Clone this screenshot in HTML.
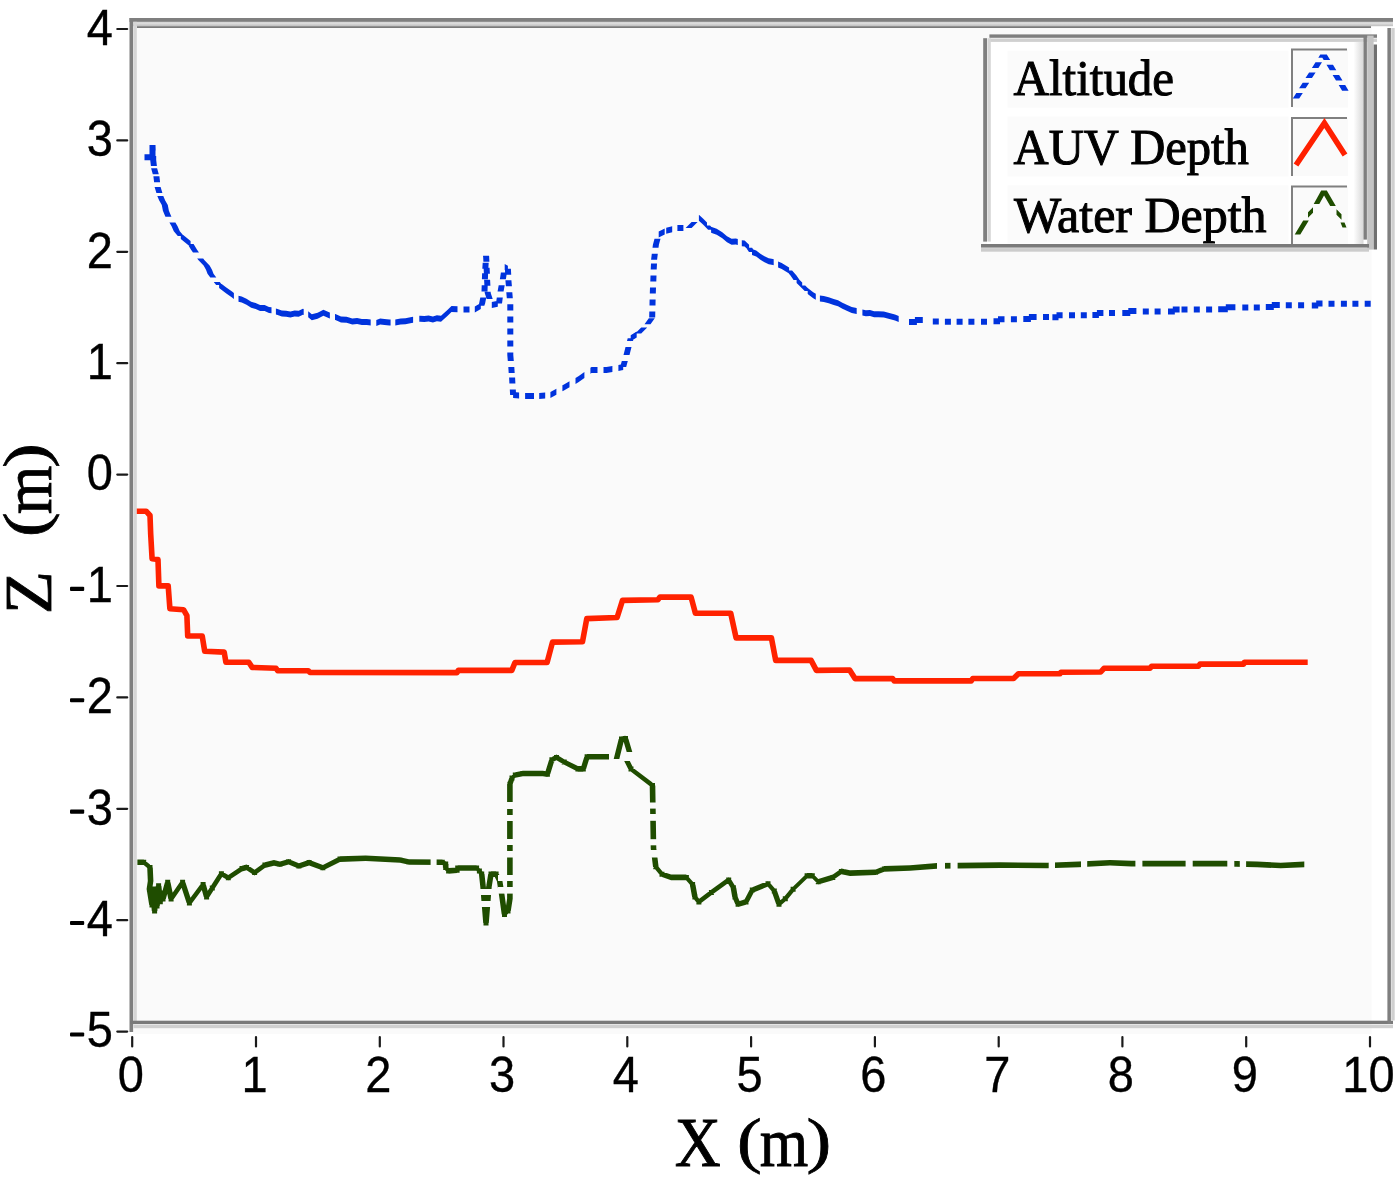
<!DOCTYPE html>
<html><head><meta charset="utf-8"><style>
html,body{margin:0;padding:0;background:#fff;width:1400px;height:1178px;overflow:hidden}
svg{display:block}
.sans{font-family:"Liberation Sans",sans-serif}
.serif{font-family:"Liberation Serif",serif}
</style></head><body>
<svg width="1400" height="1178" viewBox="0 0 1400 1178">
<defs>
<linearGradient id="tgr" x1="0" x2="0" y1="0" y2="1"><stop offset="0" stop-color="#d4d4d4"/><stop offset="0.35" stop-color="#dcdcdc"/><stop offset="1" stop-color="#bdbdbd"/></linearGradient>
<linearGradient id="lgsh" x1="0" x2="1" y1="0" y2="0"><stop offset="0" stop-color="#fff"/><stop offset="1" stop-color="#d8d8d8"/></linearGradient>
</defs>
<rect x="0" y="0" width="1400" height="1178" fill="#fff"/>
<!-- plot bg -->
<rect x="133" y="26" width="1238.6" height="1000" fill="#fafafa"/>
<rect x="133" y="1028" width="1238.6" height="6" fill="#fafafa"/>
<!-- outer frame -->
<rect x="129.5" y="18" width="1263.5" height="3.9" fill="#7f7f7f"/>
<rect x="133" y="21.9" width="1260" height="4.3" fill="url(#tgr)"/>
<rect x="137" y="26.2" width="1234" height="1.8" fill="#7a7a7a"/>
<rect x="129.5" y="18" width="3.6" height="1014" fill="#7f7f7f"/>
<rect x="133.4" y="21.8" width="3.4" height="1002" fill="#d6d6d6"/>
<rect x="130" y="1020.7" width="1263" height="3.4" fill="#7a7a7a"/>
<rect x="133.4" y="1024.8" width="1259.6" height="3.4" fill="#d0d0d0"/>
<rect x="1387.4" y="28" width="3.5" height="996" fill="#7f7f7f"/>
<rect x="1391.3" y="28" width="3.4" height="992.5" fill="#d0d0d0"/>
<!-- ticks -->
<g stroke="#1a1a1a" stroke-width="2.2" stroke-linecap="round"><line x1="117.3" y1="29.0" x2="127.2" y2="29.0"/><line x1="117.3" y1="140.4" x2="127.2" y2="140.4"/><line x1="117.3" y1="251.8" x2="127.2" y2="251.8"/><line x1="117.3" y1="363.2" x2="127.2" y2="363.2"/><line x1="117.3" y1="474.6" x2="127.2" y2="474.6"/><line x1="117.3" y1="586.0" x2="127.2" y2="586.0"/><line x1="117.3" y1="697.4" x2="127.2" y2="697.4"/><line x1="117.3" y1="808.8" x2="127.2" y2="808.8"/><line x1="117.3" y1="920.2" x2="127.2" y2="920.2"/><line x1="117.3" y1="1031.6" x2="127.2" y2="1031.6"/><line x1="132.2" y1="1037" x2="132.2" y2="1046.5"/><line x1="256.0" y1="1037" x2="256.0" y2="1046.5"/><line x1="379.8" y1="1037" x2="379.8" y2="1046.5"/><line x1="503.5" y1="1037" x2="503.5" y2="1046.5"/><line x1="627.3" y1="1037" x2="627.3" y2="1046.5"/><line x1="751.1" y1="1037" x2="751.1" y2="1046.5"/><line x1="874.9" y1="1037" x2="874.9" y2="1046.5"/><line x1="998.7" y1="1037" x2="998.7" y2="1046.5"/><line x1="1122.4" y1="1037" x2="1122.4" y2="1046.5"/><line x1="1246.2" y1="1037" x2="1246.2" y2="1046.5"/><line x1="1370.0" y1="1037" x2="1370.0" y2="1046.5"/></g>
<g class="sans" font-size="50" fill="#000" stroke="#000" stroke-width="0.35" text-anchor="end"><text transform="translate(113,44.8) scale(0.94,1)">4</text><text transform="translate(113,156.2) scale(0.94,1)">3</text><text transform="translate(113,267.6) scale(0.94,1)">2</text><text transform="translate(113,379.0) scale(0.94,1)">1</text><text transform="translate(113,490.4) scale(0.94,1)">0</text><text transform="translate(113,601.8) scale(0.94,1)">1</text><text transform="translate(113,713.2) scale(0.94,1)">2</text><text transform="translate(113,824.6) scale(0.94,1)">3</text><text transform="translate(113,936.0) scale(0.94,1)">4</text><text transform="translate(113,1047.4) scale(0.94,1)">5</text></g>
<g fill="#000"><rect x="70" y="586.8" width="14.2" height="4.1" rx="1"/><rect x="70" y="698.2" width="14.2" height="4.1" rx="1"/><rect x="70" y="809.6" width="14.2" height="4.1" rx="1"/><rect x="70" y="921.0" width="14.2" height="4.1" rx="1"/><rect x="70" y="1032.4" width="14.2" height="4.1" rx="1"/></g>
<g class="sans" font-size="50" fill="#000" stroke="#000" stroke-width="0.35" text-anchor="middle"><text transform="translate(130.7,1092.3) scale(0.94,1)">0</text><text transform="translate(254.5,1092.3) scale(0.94,1)">1</text><text transform="translate(378.3,1092.3) scale(0.94,1)">2</text><text transform="translate(502.0,1092.3) scale(0.94,1)">3</text><text transform="translate(625.8,1092.3) scale(0.94,1)">4</text><text transform="translate(749.6,1092.3) scale(0.94,1)">5</text><text transform="translate(873.4,1092.3) scale(0.94,1)">6</text><text transform="translate(997.2,1092.3) scale(0.94,1)">7</text><text transform="translate(1120.9,1092.3) scale(0.94,1)">8</text><text transform="translate(1244.7,1092.3) scale(0.94,1)">9</text><text transform="translate(1368.5,1092.3) scale(0.94,1)">10</text></g>
<!-- axis titles -->
<g class="serif" font-size="64" fill="#000" stroke="#000" stroke-width="0.8">
<text transform="translate(674.7,1166.3) scale(0.995,1.079)">X</text>
<text transform="translate(736.9,1160.6) scale(1.16,0.95)">(</text>
<text transform="translate(759.7,1166.1) scale(0.975,1.097)">m</text>
<text transform="translate(806.6,1160.6) scale(1.16,0.95)">)</text>
<text transform="translate(51,614.2) rotate(-90) scale(1.106,1.06)">Z</text>
<text transform="translate(46.1,537.1) rotate(-90) scale(1.16,0.95)">(</text>
<text transform="translate(51,514.2) rotate(-90) scale(0.975,1.097)">m</text>
<text transform="translate(46.1,468) rotate(-90) scale(1.16,0.95)">)</text>
</g>
<!-- curves -->
<mask id="gm" maskUnits="userSpaceOnUse" x="0" y="0" width="1400" height="1178"><rect x="0" y="0" width="1400" height="1178" fill="#fff"/><rect x="430.6" y="850" width="6.0" height="30.0" fill="#000"/><rect x="937" y="850" width="8.0" height="30.0" fill="#000"/><rect x="950.5" y="850" width="7.1" height="30.0" fill="#000"/><rect x="1048.7" y="850" width="6.3" height="30.0" fill="#000"/><rect x="1081" y="850" width="6.2" height="30.0" fill="#000"/><rect x="1135.4" y="850" width="7.0" height="30.0" fill="#000"/><rect x="1185.6" y="850" width="7.1" height="30.0" fill="#000"/><rect x="1227.3" y="850" width="7.0" height="30.0" fill="#000"/><rect x="1239.8" y="850" width="6.3" height="30.0" fill="#000"/><rect x="500" y="802" width="16.0" height="7.0" fill="#000"/><rect x="500" y="815" width="16.0" height="6.0" fill="#000"/><rect x="500" y="839" width="16.0" height="6.0" fill="#000"/><rect x="500" y="851" width="16.0" height="6.5" fill="#000"/><rect x="498" y="875" width="18.0" height="6.0" fill="#000"/><rect x="498" y="887" width="18.0" height="6.6" fill="#000"/><rect x="478" y="889" width="15.0" height="6.0" fill="#000"/><rect x="478" y="901" width="15.0" height="6.0" fill="#000"/><rect x="646" y="802.5" width="16.0" height="6.1" fill="#000"/><rect x="646" y="814" width="16.0" height="6.8" fill="#000"/><rect x="646" y="839.2" width="16.0" height="6.1" fill="#000"/><rect x="646" y="850" width="16.0" height="7.5" fill="#000"/></mask>
<path mask="url(#gm)" fill="#1f4d00" d="M137.4 859.5L143.7 859.5L143.7 865.1L137.4 865.1ZM143.7 859.5L150.0 864.6L150.0 870.2L143.7 865.1ZM147.2 867.4L152.8 867.4L153.4 881.1L147.8 881.1ZM147.8 881.1L153.4 881.1L152.2 889.1L146.6 889.1ZM146.6 889.1L152.2 889.1L154.8 905.0L149.2 905.0ZM149.7 889.0L155.3 889.0L154.8 905.0L149.2 905.0ZM149.7 889.0L155.3 889.0L157.4 911.0L151.8 911.0ZM152.7 889.0L158.3 889.0L157.4 911.0L151.8 911.0ZM152.7 889.0L158.3 889.0L159.8 906.0L154.2 906.0ZM155.8 885.7L161.4 885.7L159.8 906.0L154.2 906.0ZM155.8 885.7L161.4 885.7L163.1 901.7L157.5 901.7ZM159.2 893.0L164.8 893.0L163.1 901.7L157.5 901.7ZM159.2 893.0L164.8 893.0L165.8 899.0L160.2 899.0ZM164.9 882.3L170.5 882.3L165.8 899.0L160.2 899.0ZM164.9 882.3L170.5 882.3L173.9 898.9L168.3 898.9ZM179.8 882.3L185.4 882.3L173.9 898.9L168.3 898.9ZM179.8 882.3L185.4 882.3L192.2 902.9L186.6 902.9ZM200.3 884.6L205.9 884.6L192.2 902.9L186.6 902.9ZM200.3 884.6L205.9 884.6L209.4 897.1L203.8 897.1ZM209.5 888.0L215.1 888.0L209.4 897.1L203.8 897.1ZM218.6 873.7L224.2 873.7L215.1 888.0L209.5 888.0ZM221.4 870.9L228.3 874.9L228.3 880.5L221.4 876.5ZM228.3 874.9L242.0 865.8L242.0 871.4L228.3 880.5ZM242.0 865.8L246.6 864.6L246.6 870.2L242.0 871.4ZM246.6 864.6L254.6 869.8L254.6 875.4L246.6 870.2ZM254.6 869.8L264.9 862.3L264.9 867.9L254.6 875.4ZM264.9 862.3L274.0 860.1L274.0 865.7L264.9 867.9ZM274.0 860.1L280.0 861.5L280.0 867.1L274.0 865.7ZM280.0 861.5L288.6 858.9L288.6 864.5L280.0 867.1ZM288.6 858.9L298.9 863.2L298.9 868.8L288.6 864.5ZM298.9 863.2L309.1 859.8L309.1 865.4L298.9 868.8ZM309.1 859.8L322.9 864.9L322.9 870.5L309.1 865.4ZM322.9 864.9L340.0 856.3L340.0 861.9L322.9 870.5ZM340.0 856.3L365.7 855.5L365.7 861.1L340.0 861.9ZM365.7 855.5L400.0 857.2L400.0 862.8L365.7 861.1ZM400.0 857.2L409.0 859.2L409.0 864.8L400.0 862.8ZM409.0 859.2L442.3 859.5L442.3 865.1L409.0 864.8ZM442.3 859.5L445.7 861.2L445.7 866.8L442.3 865.1ZM442.9 864.0L448.5 864.0L448.5 867.4L442.9 867.4ZM442.9 867.4L448.5 867.4L451.4 870.9L445.8 870.9ZM448.6 868.1L457.1 867.5L457.1 873.1L448.6 873.7ZM454.9 868.0L460.5 868.0L459.9 870.3L454.3 870.3ZM457.7 865.2L476.6 865.2L476.6 870.8L457.7 870.8ZM473.8 868.0L479.4 868.0L482.2 871.0L476.6 871.0ZM476.6 871.0L482.2 871.0L484.5 874.1L478.9 874.1ZM478.9 874.1L484.5 874.1L485.9 887.1L480.3 887.1ZM480.3 887.1L485.9 887.1L488.8 923.0L483.2 923.0ZM486.1 887.1L491.7 887.1L488.8 923.0L483.2 923.0ZM488.2 874.1L493.8 874.1L491.7 887.1L486.1 887.1ZM491.0 871.3L496.1 871.3L496.1 876.9L491.0 876.9ZM493.3 874.1L498.9 874.1L502.5 881.3L496.9 881.3ZM496.9 881.3L502.5 881.3L504.3 893.0L498.7 893.0ZM498.7 893.0L504.3 893.0L507.3 914.5L501.7 914.5ZM504.5 911.7L508.0 908.2L508.0 913.8L504.5 917.3ZM507.1 898.8L512.7 898.8L510.8 911.0L505.2 911.0ZM507.1 784.2L512.7 784.2L512.7 898.8L507.1 898.8ZM509.2 778.0L514.8 778.0L512.7 784.2L507.1 784.2ZM512.0 775.2L515.3 772.2L515.3 777.8L512.0 780.8ZM515.3 772.2L522.9 770.7L522.9 776.3L515.3 777.8ZM522.9 770.7L542.8 770.7L542.8 776.3L522.9 776.3ZM542.8 770.7L547.4 771.4L547.4 777.0L542.8 776.3ZM549.1 759.7L554.7 759.7L550.2 774.2L544.6 774.2ZM551.9 756.9L556.5 754.6L556.5 760.2L551.9 762.5ZM556.5 754.6L564.2 759.2L564.2 764.8L556.5 760.2ZM564.2 759.2L577.9 766.1L577.9 771.7L564.2 764.8ZM577.9 766.1L583.3 766.1L583.3 771.7L577.9 771.7ZM584.3 756.7L589.9 756.7L586.1 768.9L580.5 768.9ZM587.1 753.9L609.0 753.9L609.0 759.5L587.1 759.5ZM141.2 859.8h5.0v5.0h-5.0zM147.5 864.9h5.0v5.0h-5.0zM148.1 878.6h5.0v5.0h-5.0zM146.9 886.6h5.0v5.0h-5.0zM149.5 902.5h5.0v5.0h-5.0zM150.0 886.5h5.0v5.0h-5.0zM152.1 908.5h5.0v5.0h-5.0zM153.0 886.5h5.0v5.0h-5.0zM154.5 903.5h5.0v5.0h-5.0zM156.1 883.2h5.0v5.0h-5.0zM157.8 899.2h5.0v5.0h-5.0zM159.5 890.5h5.0v5.0h-5.0zM160.5 896.5h5.0v5.0h-5.0zM165.2 879.8h5.0v5.0h-5.0zM168.6 896.4h5.0v5.0h-5.0zM180.1 879.8h5.0v5.0h-5.0zM186.9 900.4h5.0v5.0h-5.0zM200.6 882.1h5.0v5.0h-5.0zM204.1 894.6h5.0v5.0h-5.0zM209.8 885.5h5.0v5.0h-5.0zM218.9 871.2h5.0v5.0h-5.0zM225.8 875.2h5.0v5.0h-5.0zM239.5 866.1h5.0v5.0h-5.0zM244.1 864.9h5.0v5.0h-5.0zM252.1 870.1h5.0v5.0h-5.0zM262.4 862.6h5.0v5.0h-5.0zM271.5 860.4h5.0v5.0h-5.0zM277.5 861.8h5.0v5.0h-5.0zM286.1 859.2h5.0v5.0h-5.0zM296.4 863.5h5.0v5.0h-5.0zM306.6 860.1h5.0v5.0h-5.0zM320.4 865.2h5.0v5.0h-5.0zM337.5 856.6h5.0v5.0h-5.0zM363.2 855.8h5.0v5.0h-5.0zM397.5 857.5h5.0v5.0h-5.0zM406.5 859.5h5.0v5.0h-5.0zM439.8 859.8h5.0v5.0h-5.0zM443.2 861.5h5.0v5.0h-5.0zM443.2 864.9h5.0v5.0h-5.0zM446.1 868.4h5.0v5.0h-5.0zM454.6 867.8h5.0v5.0h-5.0zM455.2 865.5h5.0v5.0h-5.0zM474.1 865.5h5.0v5.0h-5.0zM476.9 868.5h5.0v5.0h-5.0zM479.2 871.6h5.0v5.0h-5.0zM480.6 884.6h5.0v5.0h-5.0zM483.5 920.5h5.0v5.0h-5.0zM486.4 884.6h5.0v5.0h-5.0zM488.5 871.6h5.0v5.0h-5.0zM493.6 871.6h5.0v5.0h-5.0zM497.2 878.8h5.0v5.0h-5.0zM499.0 890.5h5.0v5.0h-5.0zM502.0 912.0h5.0v5.0h-5.0zM505.5 908.5h5.0v5.0h-5.0zM507.4 896.3h5.0v5.0h-5.0zM507.4 781.7h5.0v5.0h-5.0zM509.5 775.5h5.0v5.0h-5.0zM512.8 772.5h5.0v5.0h-5.0zM520.4 771.0h5.0v5.0h-5.0zM540.3 771.0h5.0v5.0h-5.0zM544.9 771.7h5.0v5.0h-5.0zM549.4 757.2h5.0v5.0h-5.0zM554.0 754.9h5.0v5.0h-5.0zM561.7 759.5h5.0v5.0h-5.0zM575.4 766.4h5.0v5.0h-5.0zM580.8 766.4h5.0v5.0h-5.0zM584.6 754.2h5.0v5.0h-5.0zM618.7 739.0L624.3 739.0L619.3 759.0L613.7 759.0ZM621.5 736.2L625.5 735.7L625.5 741.3L621.5 741.8ZM622.7 738.5L628.3 738.5L632.3 752.0L626.7 752.0ZM619.0 736.5h5.0v5.0h-5.0zM623.0 736.0h5.0v5.0h-5.0zM624.2 761.0L629.8 761.0L633.8 769.0L628.2 769.0ZM631.0 766.2L652.5 782.6L652.5 788.2L631.0 771.8ZM649.7 785.4L655.3 785.4L656.3 848.3L650.7 848.3ZM650.7 848.3L656.3 848.3L658.6 866.7L653.0 866.7ZM653.0 866.7L658.6 866.7L664.8 874.3L659.2 874.3ZM662.0 871.5L671.1 874.6L671.1 880.2L662.0 877.1ZM671.1 874.6L686.4 874.6L686.4 880.2L671.1 880.2ZM683.6 877.4L689.2 877.4L695.4 884.6L689.8 884.6ZM689.8 884.6L695.4 884.6L697.7 897.1L692.1 897.1ZM692.1 897.1L697.7 897.1L701.7 901.9L696.1 901.9ZM698.9 899.1L711.4 889.6L711.4 895.2L698.9 904.7ZM711.4 889.6L728.7 877.1L728.7 882.7L711.4 895.2ZM725.9 879.9L731.5 879.9L736.2 887.7L730.6 887.7ZM730.6 887.7L736.2 887.7L737.8 897.1L732.2 897.1ZM732.2 897.1L737.8 897.1L740.9 904.2L735.3 904.2ZM738.1 901.4L746.0 899.1L746.0 904.7L738.1 907.0ZM749.5 890.1L755.1 890.1L748.8 901.9L743.2 901.9ZM752.3 887.3L768.0 881.0L768.0 886.6L752.3 892.9ZM765.2 883.8L770.8 883.8L777.1 890.9L771.5 890.9ZM771.5 890.9L777.1 890.9L781.8 904.2L776.2 904.2ZM779.0 901.4L785.3 895.9L785.3 901.5L779.0 907.0ZM790.3 889.3L795.9 889.3L788.1 898.7L782.5 898.7ZM793.1 886.5L807.1 872.9L807.1 878.5L793.1 892.1ZM807.1 872.9L812.3 872.9L812.3 878.5L807.1 878.5ZM812.3 872.9L818.3 878.9L818.3 884.5L812.3 878.5ZM818.3 878.9L832.8 874.6L832.8 880.2L818.3 884.5ZM832.8 874.6L841.4 868.6L841.4 874.2L832.8 880.2ZM841.4 868.6L850.0 870.3L850.0 875.9L841.4 874.2ZM850.0 870.3L875.7 869.5L875.7 875.1L850.0 875.9ZM875.7 869.5L884.3 866.1L884.3 871.7L875.7 875.1ZM884.3 866.1L910.0 865.2L910.0 870.8L884.3 871.7ZM910.0 865.2L937.1 863.1L937.1 868.7L910.0 870.8ZM937.1 863.1L1000.0 862.3L1000.0 867.9L937.1 868.7ZM1000.0 862.3L1047.1 862.7L1047.1 868.3L1000.0 867.9ZM1047.1 862.7L1078.6 861.6L1078.6 867.2L1047.1 868.3ZM1078.6 861.6L1110.0 860.0L1110.0 865.6L1078.6 867.2ZM1110.0 860.0L1131.4 860.8L1131.4 866.4L1110.0 865.6ZM1131.4 860.8L1178.6 860.8L1178.6 866.4L1131.4 866.4ZM1178.6 860.8L1225.7 860.8L1225.7 866.4L1178.6 866.4ZM1225.7 860.8L1257.1 861.6L1257.1 867.2L1225.7 866.4ZM1257.1 861.6L1280.7 862.7L1280.7 868.3L1257.1 867.2ZM1280.7 862.7L1304.3 861.6L1304.3 867.2L1280.7 868.3ZM628.5 766.5h5.0v5.0h-5.0zM650.0 782.9h5.0v5.0h-5.0zM651.0 845.8h5.0v5.0h-5.0zM653.3 864.2h5.0v5.0h-5.0zM659.5 871.8h5.0v5.0h-5.0zM668.6 874.9h5.0v5.0h-5.0zM683.9 874.9h5.0v5.0h-5.0zM690.1 882.1h5.0v5.0h-5.0zM692.4 894.6h5.0v5.0h-5.0zM696.4 899.4h5.0v5.0h-5.0zM708.9 889.9h5.0v5.0h-5.0zM726.2 877.4h5.0v5.0h-5.0zM730.9 885.2h5.0v5.0h-5.0zM732.5 894.6h5.0v5.0h-5.0zM735.6 901.7h5.0v5.0h-5.0zM743.5 899.4h5.0v5.0h-5.0zM749.8 887.6h5.0v5.0h-5.0zM765.5 881.3h5.0v5.0h-5.0zM771.8 888.4h5.0v5.0h-5.0zM776.5 901.7h5.0v5.0h-5.0zM782.8 896.2h5.0v5.0h-5.0zM790.6 886.8h5.0v5.0h-5.0zM804.6 873.2h5.0v5.0h-5.0zM809.8 873.2h5.0v5.0h-5.0zM815.8 879.2h5.0v5.0h-5.0zM830.3 874.9h5.0v5.0h-5.0zM838.9 868.9h5.0v5.0h-5.0zM847.5 870.6h5.0v5.0h-5.0zM873.2 869.8h5.0v5.0h-5.0zM881.8 866.4h5.0v5.0h-5.0zM907.5 865.5h5.0v5.0h-5.0zM934.6 863.4h5.0v5.0h-5.0zM997.5 862.6h5.0v5.0h-5.0zM1044.6 863.0h5.0v5.0h-5.0zM1076.1 861.9h5.0v5.0h-5.0zM1107.5 860.3h5.0v5.0h-5.0zM1128.9 861.1h5.0v5.0h-5.0zM1176.1 861.1h5.0v5.0h-5.0zM1223.2 861.1h5.0v5.0h-5.0zM1254.6 861.9h5.0v5.0h-5.0zM1278.2 863.0h5.0v5.0h-5.0z"/>
<polyline points="136.8,511.2 146.1,511.2 150.0,515.5 150.7,534.1 152.1,558.8 158.0,559.6 158.9,585.9 168.2,585.9 169.9,608.8 183.5,609.7 186.9,615.6 187.7,636.0 202.2,636.0 204.7,651.3 224.2,652.1 225.9,662.3 248.8,662.3 252.2,667.4 276.0,668.3 277.7,670.8 308.3,670.8 310.0,672.5 457.1,672.6 458.2,670.4 511.8,670.4 515.0,662.5 547.1,662.5 552.5,642.1 582.5,641.7 586.8,618.6 617.1,617.5 622.5,600.4 657.9,599.7 660.0,597.1 691.1,597.1 695.4,613.2 730.7,613.2 736.1,637.9 771.4,637.9 775.7,660.4 811.1,660.4 816.4,670.4 849.6,670.0 855.0,678.6 892.6,678.5 894.2,680.9 971.2,680.9 972.8,678.5 1013.6,678.5 1018.4,673.8 1060.0,673.8 1060.8,672.2 1100.7,672.0 1104.0,668.3 1150.0,668.3 1151.6,666.3 1198.4,666.3 1200.0,664.1 1243.6,664.1 1244.4,662.2 1307.7,662.2" fill="none" stroke="#ff2200" stroke-width="5.6" stroke-linejoin="round"/>
<path d="M144.5 154.3L148.5 154.3L148.5 160.3L144.5 160.3ZM148.5 154.3L152.5 154.3L152.5 160.3L148.5 160.3ZM149.5 151.0L155.5 151.0L155.5 157.3L149.5 157.3ZM149.5 145.0L155.5 145.0L155.5 151.0L149.5 151.0ZM149.5 145.0L155.5 145.0L155.7 150.5L149.7 150.5ZM150.2 155.9L156.2 155.9L156.2 156.0L150.2 156.0ZM150.2 156.0L156.2 156.0L156.2 160.0L150.2 160.0ZM150.2 160.0L156.2 160.0L156.9 166.0L150.9 166.0ZM151.1 168.3L157.1 168.3L158.8 174.3L152.8 174.3ZM153.4 176.3L159.4 176.3L160.1 182.3L154.1 182.3ZM154.6 187.0L160.6 187.0L162.4 193.0L156.4 193.0ZM157.3 196.0L163.3 196.0L165.2 200.4L159.2 200.4ZM159.2 200.4L165.2 200.4L167.8 204.9L161.8 204.9ZM161.8 204.9L167.8 204.9L168.9 210.7L162.9 210.7ZM162.9 210.7L168.9 210.7L171.3 216.5L165.3 216.5ZM165.3 216.5L171.3 216.5L171.5 216.7L165.5 216.7ZM169.4 222.4L175.4 222.4L177.6 226.3L171.6 226.3ZM171.6 226.3L177.6 226.3L179.8 231.2L173.8 231.2ZM173.8 231.2L179.8 231.2L183.8 236.0L177.8 236.0ZM180.8 233.0L185.7 237.1L185.7 243.1L180.8 239.0ZM185.7 237.1L190.6 241.0L190.6 247.0L185.7 243.1ZM187.6 244.0L193.6 244.0L196.9 249.4L190.9 249.4ZM190.9 249.4L196.9 249.4L199.0 252.4L193.0 252.4ZM197.2 258.6L203.2 258.6L204.3 260.1L198.3 260.1ZM198.3 260.1L204.3 260.1L209.6 265.5L203.6 265.5ZM203.6 265.5L209.6 265.5L212.0 269.7L206.0 269.7ZM206.0 269.7L212.0 269.7L213.5 273.8L207.5 273.8ZM207.5 273.8L213.5 273.8L216.3 277.4L210.3 277.4ZM213.8 282.0L219.8 282.0L222.1 285.0L216.1 285.0ZM219.1 282.0L226.3 287.4L226.3 293.4L219.1 288.0ZM226.3 287.4L231.7 291.3L231.7 297.3L226.3 293.4ZM231.7 291.3L233.9 293.0L233.9 299.0L231.7 297.3ZM238.5 295.8L241.7 296.6L241.7 302.6L238.5 301.8ZM241.7 296.6L246.5 298.8L246.5 304.8L241.7 302.6ZM246.5 298.8L251.2 301.7L251.2 307.7L246.5 304.8ZM251.2 301.7L255.6 302.9L255.6 308.9L251.2 307.7ZM255.6 302.9L260.1 305.0L260.1 311.0L255.6 308.9ZM260.1 305.0L264.6 304.9L264.6 310.9L260.1 311.0ZM264.6 304.9L269.0 307.0L269.0 313.0L264.6 310.9ZM269.0 307.0L271.5 307.2L271.5 313.2L269.0 313.0ZM275.9 308.4L277.6 309.1L277.6 315.1L275.9 314.4ZM277.6 309.1L281.8 310.6L281.8 316.6L277.6 315.1ZM281.8 310.6L286.1 310.8L286.1 316.8L281.8 316.6ZM286.1 310.8L290.4 311.5L290.4 317.5L286.1 316.8ZM290.4 311.5L294.6 310.4L294.6 316.4L290.4 317.5ZM294.6 310.4L298.7 310.7L298.7 316.7L294.6 316.4ZM298.7 310.7L302.9 308.8L302.9 314.8L298.7 316.7ZM302.9 308.8L303.7 309.1L303.7 315.1L302.9 314.8ZM308.2 311.3L311.8 314.2L311.8 320.2L308.2 317.3ZM311.8 314.2L317.6 312.7L317.6 318.7L311.8 320.2ZM317.6 312.7L323.4 309.7L323.4 315.7L317.6 318.7ZM323.4 309.7L329.7 312.5L329.7 318.5L323.4 315.7ZM329.7 312.5L329.9 312.5L329.9 318.5L329.7 318.5ZM335.0 314.0L335.4 314.1L335.4 320.1L335.0 320.0ZM335.4 314.1L341.0 316.5L341.0 322.5L335.4 320.1ZM341.0 316.5L346.6 316.8L346.6 322.8L341.0 322.5ZM346.6 316.8L352.3 318.6L352.3 324.6L346.6 322.8ZM352.3 318.6L357.1 318.0L357.1 324.0L352.3 324.6ZM357.1 318.0L361.9 318.9L361.9 324.9L357.1 324.0ZM361.9 318.9L366.8 318.9L366.8 324.9L361.9 324.9ZM366.8 318.9L370.7 319.6L370.7 325.6L366.8 324.9ZM376.3 319.9L380.2 318.5L380.2 324.5L376.3 325.9ZM380.2 318.5L384.5 318.9L384.5 324.9L380.2 324.5ZM384.5 318.9L389.4 319.5L389.4 325.5L384.5 324.9ZM389.4 319.5L390.6 319.5L390.6 325.5L389.4 325.5ZM395.3 319.5L400.6 318.6L400.6 324.6L395.3 325.5ZM400.6 318.6L405.5 318.2L405.5 324.2L400.6 324.6ZM405.5 318.2L410.3 317.3L410.3 323.3L405.5 324.2ZM410.3 317.3L413.1 316.7L413.1 322.7L410.3 323.3ZM419.3 315.8L420.0 315.7L420.0 321.7L419.3 321.8ZM420.0 315.7L424.3 316.1L424.3 322.1L420.0 321.7ZM424.3 316.1L428.6 315.4L428.6 321.4L424.3 322.1ZM428.6 315.4L432.9 316.5L432.9 322.5L428.6 321.4ZM432.9 316.5L436.9 315.2L436.9 321.2L432.9 322.5ZM436.9 315.2L441.0 315.7L441.0 321.7L436.9 321.2ZM441.0 315.7L447.4 310.1L447.4 316.1L441.0 321.7ZM447.4 310.1L451.5 306.0L451.5 312.0L447.4 316.1ZM451.5 306.0L457.5 306.2L457.5 312.2L451.5 312.0ZM463.5 306.4L469.5 306.4L469.5 312.4L463.5 312.4ZM474.8 306.4L480.8 303.1L480.8 309.1L474.8 312.4ZM479.1 303.4L485.1 303.4L484.3 305.8L478.3 305.8ZM480.3 297.4L486.3 297.4L485.1 303.4L479.1 303.4ZM481.5 291.3L487.5 291.3L487.5 291.4L481.5 291.4ZM481.7 285.3L487.7 285.3L487.5 291.3L481.5 291.3ZM482.1 273.3L488.1 273.3L487.9 279.3L481.9 279.3ZM482.7 262.7L488.7 262.7L488.3 268.7L482.3 268.7ZM483.1 255.8L489.1 255.8L489.0 256.7L483.0 256.7ZM483.1 255.8L489.1 255.8L489.4 261.8L483.4 261.8ZM483.6 267.8L489.6 267.8L489.9 273.8L483.9 273.8ZM484.1 279.8L490.1 279.8L490.4 285.8L484.4 285.8ZM484.7 291.8L490.7 291.8L490.7 292.9L484.7 292.9ZM484.7 292.9L490.7 292.9L492.7 298.9L486.7 298.9ZM488.8 304.9L494.8 304.9L494.8 305.0L488.8 305.0ZM491.8 302.0L497.8 300.7L497.8 306.7L491.8 308.0ZM496.8 297.4L502.8 297.4L502.0 303.4L496.0 303.4ZM497.6 291.3L503.6 291.3L503.6 291.4L497.6 291.4ZM498.7 285.3L504.7 285.3L503.6 291.3L497.6 291.3ZM500.0 278.4L506.0 278.4L505.8 279.3L499.8 279.3ZM500.9 272.4L506.9 272.4L506.0 278.4L500.0 278.4ZM504.7 264.1L507.9 265.7L507.9 271.7L504.7 270.1ZM504.9 268.7L510.9 268.7L511.2 274.7L505.2 274.7ZM505.4 280.3L511.4 280.3L511.9 286.3L505.9 286.3ZM506.3 292.3L512.3 292.3L512.8 298.3L506.8 298.3ZM507.3 304.3L513.3 304.3L513.3 304.6L507.3 304.6ZM507.3 304.6L513.3 304.6L513.3 310.6L507.3 310.6ZM507.3 316.6L513.3 316.6L513.3 322.6L507.3 322.6ZM507.3 328.6L513.3 328.6L513.3 334.6L507.3 334.6ZM507.3 340.6L513.3 340.6L513.3 346.6L507.3 346.6ZM507.3 352.6L513.3 352.6L513.3 355.0L507.3 355.0ZM507.3 355.0L513.3 355.0L513.8 361.0L507.8 361.0ZM508.3 367.0L514.3 367.0L514.7 373.0L508.7 373.0ZM509.1 377.4L515.1 377.4L515.4 383.4L509.4 383.4ZM509.8 389.4L515.8 389.4L516.1 395.1L510.1 395.1ZM513.1 392.1L519.1 392.5L519.1 398.5L513.1 398.1ZM525.1 392.9L528.0 393.1L528.0 399.1L525.1 398.9ZM528.0 393.1L534.0 393.1L534.0 399.1L528.0 399.1ZM539.2 393.1L545.2 392.6L545.2 398.6L539.2 399.1ZM550.4 392.1L556.4 388.7L556.4 394.7L550.4 398.1ZM562.4 385.3L563.5 384.7L563.5 390.7L562.4 391.3ZM563.5 384.7L569.5 381.3L569.5 387.3L563.5 390.7ZM575.5 377.9L578.4 376.3L578.4 382.3L575.5 383.9ZM578.4 376.3L584.4 372.0L584.4 378.0L578.4 382.3ZM590.4 367.7L591.5 366.9L591.5 372.9L590.4 373.7ZM591.5 366.9L597.5 366.9L597.5 372.9L591.5 372.9ZM603.5 366.9L606.4 366.9L606.4 372.9L603.5 372.9ZM606.4 366.9L612.4 365.9L612.4 371.9L606.4 372.9ZM618.4 364.9L623.2 364.1L623.2 370.1L618.4 370.9ZM621.8 361.1L627.8 361.1L626.2 367.1L620.2 367.1ZM624.0 353.1L630.0 353.1L629.5 355.1L623.5 355.1ZM625.5 347.1L631.5 347.1L630.0 353.1L624.0 353.1ZM627.7 338.2L633.7 338.2L633.0 341.1L627.0 341.1ZM630.7 335.2L636.7 331.4L636.7 337.4L630.7 341.2ZM641.2 327.5L647.2 327.5L641.2 333.5L635.2 333.5ZM648.8 318.2L654.8 318.2L650.5 324.2L644.5 324.2ZM649.3 311.6L655.3 311.6L655.2 317.6L649.2 317.6ZM649.6 299.6L655.6 299.6L655.5 305.6L649.5 305.6ZM649.8 293.4L655.8 293.4L655.8 293.6L649.8 293.6ZM650.0 287.4L656.0 287.4L655.8 293.4L649.8 293.4ZM650.5 275.4L656.5 275.4L656.3 281.4L650.3 281.4ZM651.0 263.4L657.0 263.4L656.7 269.4L650.7 269.4ZM651.8 253.8L657.8 253.8L657.1 259.8L651.1 259.8ZM652.9 244.8L658.9 244.8L658.5 247.8L652.5 247.8ZM654.5 238.8L660.5 238.8L658.9 244.8L652.9 244.8ZM658.7 231.5L664.7 228.5L664.7 234.5L658.7 237.5ZM666.2 227.8L672.2 226.3L672.2 232.3L666.2 233.8ZM677.4 225.0L683.4 225.0L683.4 231.0L677.4 231.0ZM691.6 222.0L697.6 222.0L691.6 228.0L685.6 228.0ZM698.9 214.7L703.0 218.6L703.0 224.6L698.9 220.7ZM703.0 218.6L707.0 222.4L707.0 228.4L703.0 224.6ZM704.0 225.4L710.0 225.4L714.1 229.7L708.1 229.7ZM711.1 226.7L716.7 228.8L716.7 234.8L711.1 232.7ZM716.7 228.8L722.3 232.3L722.3 238.3L716.7 234.8ZM722.3 232.3L727.0 236.3L727.0 242.3L722.3 238.3ZM727.0 236.3L731.6 238.8L731.6 244.8L727.0 242.3ZM731.6 238.8L735.9 238.4L735.9 244.4L731.6 244.8ZM735.9 238.4L737.8 239.1L737.8 245.1L735.9 244.4ZM741.8 240.2L744.6 240.6L744.6 246.6L741.8 246.2ZM744.6 240.6L749.1 244.8L749.1 250.8L744.6 246.6ZM746.1 247.8L752.1 247.8L755.0 252.0L749.0 252.0ZM752.0 249.0L756.2 250.5L756.2 256.5L752.0 255.0ZM756.2 250.5L760.4 253.8L760.4 259.8L756.2 256.5ZM760.4 253.8L764.5 256.2L764.5 262.2L760.4 259.8ZM764.5 256.2L768.7 258.3L768.7 264.3L764.5 262.2ZM768.7 258.3L773.0 258.9L773.0 264.9L768.7 264.3ZM773.0 258.9L773.7 259.2L773.7 265.2L773.0 264.9ZM778.1 261.4L781.7 262.9L781.7 268.9L778.1 267.4ZM781.7 262.9L789.1 267.6L789.1 273.6L781.7 268.9ZM786.1 270.6L792.1 270.6L796.3 275.2L790.3 275.2ZM790.3 275.2L796.3 275.2L799.6 279.9L793.6 279.9ZM796.6 276.9L802.2 282.4L802.2 288.4L796.6 282.9ZM799.2 285.4L805.2 285.4L810.7 291.0L804.7 291.0ZM807.7 288.0L813.2 292.2L813.2 298.2L807.7 294.0ZM813.2 292.2L815.8 293.7L815.8 299.7L813.2 298.2ZM819.9 295.5L823.8 295.9L823.8 301.9L819.9 301.5ZM823.8 295.9L828.7 297.3L828.7 303.3L823.8 301.9ZM828.7 297.3L833.7 299.1L833.7 305.1L828.7 303.3ZM833.7 299.1L838.0 300.2L838.0 306.2L833.7 305.1ZM838.0 300.2L842.4 302.8L842.4 308.8L838.0 306.2ZM842.4 302.8L846.7 304.7L846.7 310.7L842.4 308.8ZM846.7 304.7L851.7 307.1L851.7 313.1L846.7 310.7ZM851.7 307.1L856.6 307.9L856.6 313.9L851.7 313.1ZM856.6 307.9L856.7 308.0L856.7 314.0L856.6 313.9ZM862.4 309.5L865.8 310.3L865.8 316.3L862.4 315.5ZM865.8 310.3L870.0 310.0L870.0 316.0L865.8 316.3ZM870.0 310.0L874.1 311.2L874.1 317.2L870.0 316.0ZM874.1 311.2L878.3 311.2L878.3 317.2L874.1 317.2ZM878.3 311.2L883.8 311.4L883.8 317.4L878.3 317.2ZM883.8 311.4L889.4 313.1L889.4 319.1L883.8 317.4ZM889.4 313.1L895.0 314.5L895.0 320.5L889.4 319.1ZM895.0 314.5L898.7 316.0L898.7 322.0L895.0 320.5ZM932.8 318.6h6v6h-6zM944.9 318.7h6v6h-6zM956.6 318.7h6v6h-6zM968.4 318.7h6v6h-6zM981.0 318.7h6v6h-6zM1010.9 316.3h6v6h-6zM1043.0 314.0h6v6h-6zM1069.0 312.3h6v6h-6zM1080.8 312.3h6v6h-6zM1109.0 310.0h6v6h-6zM1142.8 308.4h6v6h-6zM1154.6 308.4h6v6h-6zM1181.5 306.4h6v6h-6zM1193.8 306.4h6v6h-6zM1206.1 306.4h6v6h-6zM1242.3 304.5h6v6h-6zM1253.8 304.5h6v6h-6zM1285.8 302.3h6v6h-6zM1298.1 302.3h6v6h-6zM1328.5 300.7h6v6h-6zM1340.9 300.7h6v6h-6zM1352.4 300.7h6v6h-6zM1364.7 300.7h6v6h-6zM909.0 319.0H916.9v6H909.0zM914.9 317.0H922.8v6H914.9zM993.5 318.3H1000.0v6H993.5zM998.0 316.3H1004.5v6H998.0zM1023.3 316.0H1030.9v6H1023.3zM1028.9 314.0H1036.6v6H1028.9zM1052.4 314.3H1058.5v6H1052.4zM1056.5 312.3H1062.6v6H1056.5zM1092.4 312.0H1098.9v6H1092.4zM1096.9 310.0H1103.4v6H1096.9zM1122.3 310.0H1130.3v6H1122.3zM1128.3 308.0H1136.4v6H1128.3zM1168.0 308.5H1174.8v6H1168.0zM1172.8 306.5H1179.6v6H1172.8zM1218.2 306.3H1227.8v6H1218.2zM1225.8 304.3H1235.4v6H1225.8zM1265.8 304.0H1273.8v6H1265.8zM1271.8 302.0H1279.8v6H1271.8zM1311.8 302.5H1318.2v6H1311.8zM1316.2 300.5H1322.5v6H1316.2z" fill="#0033dd"/>
<!-- legend -->
<rect x="987" y="38" width="380" height="208" fill="#fff"/>
<rect x="989.4" y="34.4" width="387.6" height="3.4" fill="#7f7f7f"/>
<rect x="990" y="38.5" width="387" height="3.4" fill="#d0d0d0"/>
<rect x="983.2" y="38.2" width="3.8" height="203.4" fill="#7f7f7f"/>
<rect x="987.4" y="38.2" width="3.4" height="203.4" fill="#d6d6d6"/>
<rect x="1353.5" y="42" width="10" height="202" fill="url(#lgsh)"/>
<rect x="1363.5" y="35.6" width="3.4" height="204" fill="#7f7f7f"/>
<rect x="1367.2" y="35.6" width="6.4" height="214" fill="#c4c4c4"/>
<rect x="1373.7" y="44.5" width="3.3" height="205" fill="#707070"/>
<rect x="981" y="244" width="388" height="3.6" fill="#7a7a7a"/>
<rect x="981" y="248.1" width="388" height="3.6" fill="#cccccc"/>
<!-- legend rows -->
<rect x="1007.5" y="50.7" width="281" height="57" fill="#fbfbfb"/>
<rect x="1007.5" y="116.6" width="281" height="59.8" fill="#fbfbfb"/>
<rect x="1007.5" y="185.3" width="281" height="58.2" fill="#fbfbfb"/>
<g class="serif" font-size="50" fill="#000" stroke="#000" stroke-width="1.0">
<text x="1013.6" y="95" textLength="160.5" lengthAdjust="spacingAndGlyphs">Altitude</text>
<text x="1013.6" y="163.7" textLength="235.3" lengthAdjust="spacingAndGlyphs">AUV Depth</text>
<text x="1013.9" y="232.3" textLength="252.7" lengthAdjust="spacingAndGlyphs">Water Depth</text>
</g>
<!-- swatches -->
<g>
<rect x="1292" y="49.5" width="56" height="58" fill="#fafafa"/>
<rect x="1292" y="118" width="56" height="58" fill="#fafafa"/>
<rect x="1292" y="186.5" width="56" height="57.5" fill="#fafafa"/>
<path d="M1292 107 V49.5 H1347" fill="none" stroke="#808080" stroke-width="2"/>
<path d="M1292 176 V118 H1347" fill="none" stroke="#808080" stroke-width="2"/>
<path d="M1292 244 V186.5 H1347" fill="none" stroke="#808080" stroke-width="2"/>
<path d="M1296.3 92.9L1302.8 92.9L1299.2 98.5L1292.8 98.5ZM1302.7 82.7L1309.2 82.7L1305.6 88.3L1299.1 88.3ZM1309.1 72.5L1315.6 72.5L1312.0 78.1L1305.5 78.1ZM1315.5 62.3L1322.0 62.3L1318.4 67.9L1311.9 67.9ZM1320.3 54.5L1326.8 54.5L1324.8 57.7L1318.3 57.7ZM1320.3 54.5L1326.8 54.5L1330.2 60.1L1323.7 60.1ZM1326.5 64.7L1333.0 64.7L1336.3 70.3L1329.8 70.3ZM1332.6 74.9L1339.1 74.9L1342.5 80.5L1336.0 80.5ZM1338.7 85.1L1345.2 85.1L1348.6 90.7L1342.1 90.7Z" fill="#0033dd"/>
<polyline points="1296,165 1324.4,123 1345,155" fill="none" stroke="#ff2000" stroke-width="5.6"/>
<path d="M1303.2 220.5L1308.8 220.5L1300.3 234.5L1294.7 234.5ZM1308.0 212.2L1313.0 207.2L1313.0 212.8L1308.0 217.8ZM1321.2 190.5L1326.8 190.5L1319.3 204.0L1313.7 204.0ZM1321.2 190.5L1326.8 190.5L1335.8 206.0L1330.2 206.0ZM1336.5 209.2L1341.5 214.2L1341.5 219.8L1336.5 214.8ZM1340.5 222.5L1344.5 222.5L1346.5 227.5L1342.5 227.5Z" fill="#1f4d00"/>
</g>
</svg>
</body></html>
